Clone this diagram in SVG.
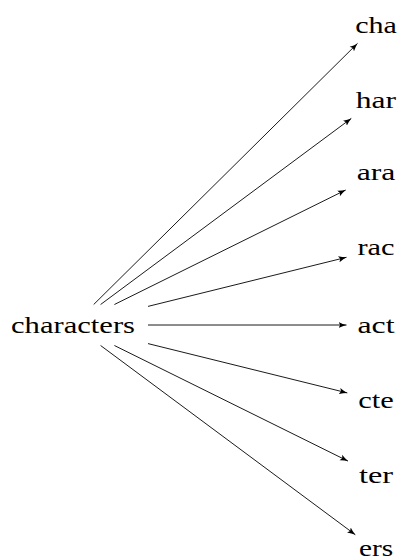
<svg xmlns="http://www.w3.org/2000/svg" width="398" height="557" viewBox="0 0 398 557" font-family="'Liberation Serif', 'DejaVu Serif', serif">
  <style>
    text { font-family: 'Liberation Serif', 'DejaVu Serif', serif; font-size: 23px; fill: #000; }
    .label { text-anchor: middle; }
    .edge { stroke: #000; stroke-width: 0.9; fill: none; marker-end: url(#head); }
  </style>
  <defs>
    <marker id="head" markerUnits="userSpaceOnUse" markerWidth="10" markerHeight="8" refX="8" refY="4" orient="auto">
      <path d="M0,0.9 Q4,3 8,4 Q4,5 0,7.1 L1.6,4 Z" fill="#000"/>
    </marker>
  </defs>

  <!-- connectors: source word to each trigram -->
  <g id="connectors">
    <line class="edge" x1="93.7" y1="304.5" x2="357.5" y2="43.4"/>
    <line class="edge" x1="100.6" y1="304.5" x2="351.3" y2="118.4"/>
    <line class="edge" x1="114.4" y1="304.5" x2="345.7" y2="190.0"/>
    <line class="edge" x1="148" y1="306.4" x2="346.5" y2="257.3"/>
    <line class="edge" x1="148" y1="325" x2="346.5" y2="325"/>
    <line class="edge" x1="148" y1="343.6" x2="347.3" y2="392.9"/>
    <line class="edge" x1="114.4" y1="345.5" x2="348" y2="461.1"/>
    <line class="edge" x1="100.6" y1="345.5" x2="355.3" y2="534.7"/>
  </g>

  <!-- source node -->
  <g id="characters">
    <text class="label" x="73" y="333" textLength="124" lengthAdjust="spacingAndGlyphs">characters</text>
  </g>

  <!-- trigram nodes -->
  <g id="cha"><text class="label" x="376" y="32.9" textLength="41.7" lengthAdjust="spacingAndGlyphs">cha</text></g>
  <g id="har"><text class="label" x="376" y="107.9" textLength="40.3" lengthAdjust="spacingAndGlyphs">har</text></g>
  <g id="ara"><text class="label" x="376" y="179.9" textLength="38.7" lengthAdjust="spacingAndGlyphs">ara</text></g>
  <g id="rac"><text class="label" x="376" y="254.9" textLength="37.1" lengthAdjust="spacingAndGlyphs">rac</text></g>
  <g id="act"><text class="label" x="376" y="332.5" textLength="37.1" lengthAdjust="spacingAndGlyphs">act</text></g>
  <g id="cte"><text class="label" x="376" y="407.5" textLength="35.5" lengthAdjust="spacingAndGlyphs">cte</text></g>
  <g id="ter"><text class="label" x="376" y="482.5" textLength="34.1" lengthAdjust="spacingAndGlyphs">ter</text></g>
  <g id="ers"><text class="label" x="376" y="555.9" textLength="34.2" lengthAdjust="spacingAndGlyphs">ers</text></g>
</svg>
